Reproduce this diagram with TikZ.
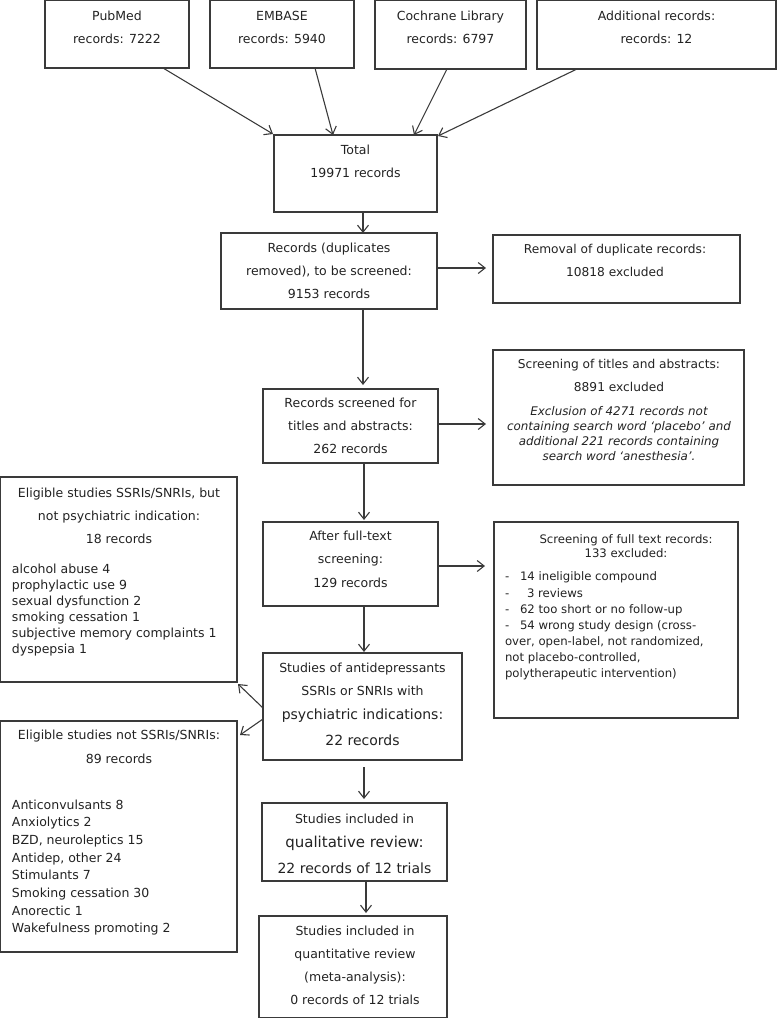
\documentclass[tikz,border=0pt]{standalone}
\usepackage{fontspec}
\setmainfont{DejaVu Sans}
\usetikzlibrary{arrows.meta}
\definecolor{ln}{HTML}{3A3A3A}
\definecolor{tx}{HTML}{222222}
\newcommand\ctr[3][12.5]{{\fontsize{#1}{#2}\selectfont\begin{tabular}[t]{@{}c@{}}#3\end{tabular}}}
\newcommand\lft[3][12.5]{{\fontsize{#1}{#2}\selectfont\begin{tabular}[t]{@{}l@{}}#3\end{tabular}}}
\begin{document}
\begin{tikzpicture}[x=1pt,y=-1pt,
  box/.style={draw=ln, line width=1.1pt, inner sep=0pt, outer sep=0pt, anchor=north west},
  txt/.style={inner sep=0pt, outer sep=0pt, text=tx, anchor=base},
  ltxt/.style={txt, anchor=base west},
  arr/.style={draw=ln, line width=1.1pt, -{Straight Barb[length=7pt,width=11pt,line width=1.1pt]}}]
\useasboundingbox (0,0) rectangle (777,1018);

% boxes
\node[box, minimum width=144pt, minimum height=67.5pt] (pub) at (45,0.5) {};
\node[box, minimum width=144pt, minimum height=67.5pt] (emb) at (210,0.5) {};
\node[box, minimum width=151pt, minimum height=68.5pt] (coch) at (375,0.5) {};
\node[box, minimum width=239pt, minimum height=68.5pt] (add) at (537,0.5) {};
\node[box, minimum width=163pt, minimum height=77pt] (tot) at (274,135) {};
\node[box, minimum width=216pt, minimum height=76pt] (rec) at (221,233) {};
\node[box, minimum width=247pt, minimum height=68pt] (rem) at (493,235) {};
\node[box, minimum width=175pt, minimum height=74pt] (scr) at (263,389) {};
\node[box, minimum width=251pt, minimum height=135pt] (tit) at (493,350) {};
\node[box, minimum width=175pt, minimum height=84pt] (aft) at (263,522) {};
\node[box, minimum width=244pt, minimum height=196pt] (ful) at (494,522) {};
\node[box, minimum width=199pt, minimum height=107pt] (psy) at (263,653) {};
\node[box, minimum width=236.5pt, minimum height=205pt] (el1) at (0.5,477) {};
\node[box, minimum width=236.5pt, minimum height=231pt] (el2) at (0.5,721) {};
\node[box, minimum width=185pt, minimum height=78pt] (qua) at (262,803) {};
\node[box, minimum width=188pt, minimum height=101.5pt] (qnt) at (259,916) {};

% texts
\node[txt] (tpub) at (117,20) {\ctr{23}{PubMed\\records: 7222}};
\node[txt] (temb) at (282,20) {\ctr{23}{EMBASE\\records: 5940}};
\node[txt] (tcoch) at (450.5,20) {\ctr{23}{Cochrane Library\\records: 6797}};
\node[txt] (tadd) at (656.5,20) {\ctr{23}{Additional records:\\records: 12}};
\node[txt] (ttot) at (355.5,154) {\ctr{23}{Total\\19971 records}};
\node[txt] (trec) at (329,252) {\ctr{23}{Records (duplicates\\removed), to be screened:\\9153 records}};
\node[txt] (trem) at (615,253) {\ctr[12.2]{23}{Removal of duplicate records:\\10818 excluded}};
\node[txt] (tscr) at (350.5,407) {\ctr{23}{Records screened for\\titles and abstracts:\\262 records}};
\node[txt] (ttit) at (619,368) {\ctr[12.2]{23}{Screening of titles and abstracts:\\8891 excluded}};
\node[txt] (ttit2) at (619,415) {\itshape\ctr[11.9]{15}{Exclusion of 4271 records not\\containing search word ‘placebo’ and\\additional 221 records containing\\search word ‘anesthesia’.}};
\node[txt] (taft) at (350.5,540) {\ctr{23.5}{After full-text\\screening:\\129 records}};
\node[txt] (tful) at (626,543) {\ctr[11.7]{14}{Screening of full text records:\\133 excluded:}};
\node[ltxt] (tful2) at (505,580) {\lft[11.7]{16}{\makebox[15pt][l]{-}14 ineligible compound\\[1pt]\makebox[22pt][l]{-}3 reviews\\\makebox[15pt][l]{-}62 too short or no follow-up\\\makebox[15pt][l]{-}54 wrong study design (cross-\\over, open-label, not randomized,\\not placebo-controlled,\\polytherapeutic intervention)}};
\node[txt] (tpsy) at (362.5,672) {\ctr{23}{Studies of antidepressants\\SSRIs or SNRIs with}};
\node[txt] (tpsy2) at (362.5,719) {\ctr[14]{26}{psychiatric indications:\\22 records}};
\node[txt] (tel1) at (119,497) {\ctr{23}{Eligible studies SSRIs/SNRIs, but\\not psychiatric indication:\\18 records}};
\node[ltxt] (tel1b) at (12,573) {\lft{16}{alcohol abuse 4\\prophylactic use 9\\sexual dysfunction 2\\smoking cessation 1\\subjective memory complaints 1\\dyspepsia 1}};
\node[txt] (tel2) at (119,739) {\ctr{24}{Eligible studies not SSRIs/SNRIs:\\89 records}};
\node[ltxt] (tel2b) at (12,809) {\lft{17.7}{Anticonvulsants 8\\Anxiolytics 2\\BZD, neuroleptics 15\\Antidep, other 24\\Stimulants 7\\Smoking cessation 30\\Anorectic 1\\Wakefulness promoting 2}};
\node[txt] (tqua1) at (354.5,823) {\ctr{15}{Studies included in}};
\node[txt] (tqua2) at (354.5,847) {\ctr[15]{18}{qualitative review:}};
\node[txt] (tqua3) at (354.5,873) {\ctr[14]{17}{22 records of 12 trials}};
\node[txt] (tqnt) at (355,935) {\ctr{23}{Studies included in\\quantitative review\\(meta-analysis):\\0 records of 12 trials}};

% connectors
\draw[arr] ([xshift=46pt]pub.south) -- ([xshift=-1pt,yshift=1pt]tot.north west);
\draw[arr] ([xshift=33pt]emb.south) -- ([xshift=59pt]tot.north west);
\draw[arr] ([xshift=-3.5pt]coch.south) -- ([xshift=-23pt]tot.north east);
\draw[arr] ([xshift=-79.5pt]add.south) -- ([xshift=1pt,yshift=-1pt]tot.north east);
\draw[arr] ([xshift=7.5pt]tot.south) -- ([xshift=7.5pt]tot.south |- rec.north);
\draw[arr, shorten >=7pt] ([yshift=3pt]rec.east) -- ([yshift=3pt]rec.east -| rem.west);
\draw[arr, shorten >=4pt] ([xshift=34pt]rec.south) -- ([xshift=34pt]rec.south |- scr.north);
\draw[arr, shorten >=7pt] ([yshift=2pt]scr.east) -- ([yshift=2pt]scr.east -| tit.west);
\draw[arr, shorten >=2pt] ([xshift=13.5pt]scr.south) -- ([xshift=13.5pt]scr.south |- aft.north);
\draw[arr, shorten >=9pt] ([yshift=-2pt]aft.east) -- ([yshift=-2pt]aft.east -| ful.west);
\draw[arr, shorten >=1pt] ([xshift=13.5pt]aft.south) -- ([xshift=13.5pt]aft.south |- psy.north);
\draw[arr] ([yshift=-1.5pt]psy.west) -- ([xshift=1pt,yshift=-2pt]el1.south east);
\draw[arr] ([yshift=-12.5pt]psy.west) -- ([xshift=3pt,yshift=-14pt]el2.north east);
\draw[arr, shorten <=7pt, shorten >=4pt] ([xshift=1.5pt]psy.south) -- ([xshift=1.5pt]psy.south |- qua.north);
\draw[arr, shorten >=3pt] ([xshift=11.5pt]qua.south) -- ([xshift=11.5pt]qua.south |- qnt.north);
\end{tikzpicture}
\end{document}
